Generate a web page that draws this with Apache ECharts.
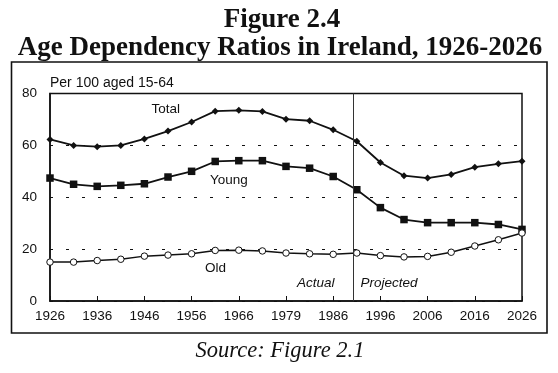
<!DOCTYPE html>
<html>
<head>
<meta charset="utf-8">
<script src="https://cdn.jsdelivr.net/npm/echarts@6/dist/echarts.min.js"></script>
<style>
html,body{margin:0;padding:0;background:#fff;}
#chart{width:558px;height:373px;}
</style>
</head>
<body>
<div id="chart"></div>
<script>
const categories = ['1926','1931','1936','1941','1946','1951','1956','1961','1966','1971','1979','1981','1986','1991','1996','2001','2006','2011','2016','2021','2026'];
const totalValues = [62.3,60.0,59.5,60.0,62.5,65.5,69.0,73.2,73.5,73.1,70.1,69.5,66.0,61.6,53.4,48.3,47.4,48.8,51.6,52.9,53.9];
const youngValues = [47.4,45.0,44.2,44.6,45.2,47.8,50.0,53.8,54.1,54.1,51.9,51.2,48.0,42.9,36.0,31.4,30.2,30.2,30.2,29.5,27.6];
const oldValues = [15.0,15.0,15.6,16.1,17.3,17.7,18.2,19.5,19.6,19.3,18.5,18.2,18.0,18.5,17.5,17.0,17.2,18.8,21.2,23.6,26.2];
const yTicks = [0,20,40,60,80];
const dividerIndex = 12.85;

const chart = echarts.init(document.getElementById('chart'), null, {renderer:'canvas'});
const ink = '#111';
const sans = 'Liberation Sans';

chart.setOption({
  animation:false,
  backgroundColor:'#fff',
  grid:{left:50,right:36,top:93.5,bottom:72,show:true,borderColor:ink,borderWidth:1.5,backgroundColor:'transparent'},
  xAxis:[{
    type:'category',data:categories,boundaryGap:false,
    axisLine:{lineStyle:{color:ink,width:1.5}},
    axisTick:{inside:true,length:5,interval:1,alignWithLabel:true,lineStyle:{color:ink,width:1}},
    axisLabel:{interval:1,color:ink,fontFamily:sans,fontSize:13.5,margin:8},
    splitLine:{show:false}
  },{
    type:'value',min:0,max:categories.length-1,show:false
  }],
  yAxis:{
    type:'value',min:yTicks[0],max:yTicks[yTicks.length-1],interval:20,
    axisLine:{show:true,lineStyle:{color:ink,width:1.5}},
    axisTick:{show:false},
    axisLabel:{color:ink,fontFamily:sans,fontSize:13.5,margin:13},
    splitLine:{show:true,lineStyle:{color:ink,type:[3,13],width:1.2}}
  },
  series:[
    {name:'Total',type:'line',data:totalValues,symbol:'diamond',symbolSize:7,
     lineStyle:{color:ink,width:1.8},itemStyle:{color:ink}},
    {name:'Young',type:'line',data:youngValues,symbol:'rect',symbolSize:7.5,
     lineStyle:{color:ink,width:1.8},itemStyle:{color:ink}},
    {name:'Old',type:'line',data:oldValues,symbol:'circle',symbolSize:6.5,
     lineStyle:{color:ink,width:1.5},itemStyle:{color:'#fff',borderColor:ink,borderWidth:1}},
    {name:'divider',type:'line',xAxisIndex:1,data:[],
     markLine:{silent:true,symbol:'none',label:{show:false},lineStyle:{color:'#333',width:1,type:'solid'},
       data:[{xAxis:dividerIndex}]}}
  ],
  graphic:[
    {type:'rect',shape:{x:11.5,y:62,width:535.5,height:271},style:{fill:'none',stroke:ink,lineWidth:1.6},silent:true,z:-1},
    {type:'text',x:282,y:20,style:{text:'Figure 2.4',font:'bold 27px "Liberation Serif"',fill:ink,align:'center',verticalAlign:'middle'}},
    {type:'text',x:280,y:48,style:{text:'Age Dependency Ratios in Ireland, 1926-2026',font:'bold 27px "Liberation Serif"',fill:ink,align:'center',verticalAlign:'middle'}},
    {type:'text',x:280,y:351,style:{text:'Source: Figure 2.1',font:'italic 22.5px "Liberation Serif"',fill:ink,align:'center',verticalAlign:'middle'}},
    {type:'text',x:50,y:83.5,style:{text:'Per 100 aged 15-64',font:'14px "Liberation Sans"',fill:ink,align:'left',verticalAlign:'middle'}},
    {type:'text',x:151.5,y:109.5,style:{text:'Total',font:'13.5px "Liberation Sans"',fill:ink,align:'left',verticalAlign:'middle'}},
    {type:'text',x:210,y:180,style:{text:'Young',font:'13.5px "Liberation Sans"',fill:ink,align:'left',verticalAlign:'middle'}},
    {type:'text',x:205,y:268,style:{text:'Old',font:'13.5px "Liberation Sans"',fill:ink,align:'left',verticalAlign:'middle'}},
    {type:'text',x:297,y:283,style:{text:'Actual',font:'italic 13.5px "Liberation Sans"',fill:ink,align:'left',verticalAlign:'middle'}},
    {type:'text',x:360.5,y:283,style:{text:'Projected',font:'italic 13.5px "Liberation Sans"',fill:ink,align:'left',verticalAlign:'middle'}}
  ]
});
</script>
</body>
</html>
